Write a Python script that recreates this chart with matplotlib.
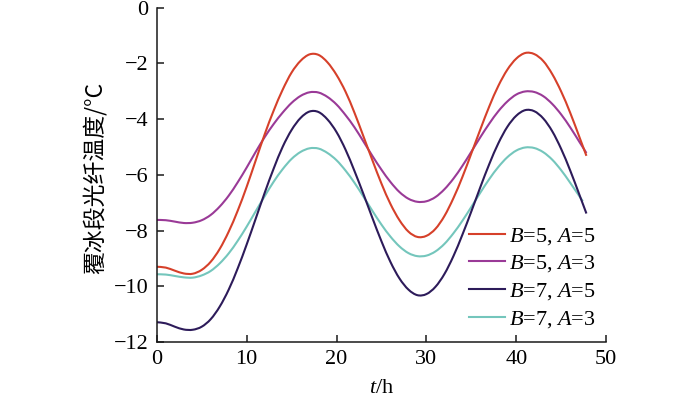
import matplotlib
matplotlib.use("Agg")
import matplotlib.pyplot as plt
from matplotlib.path import Path
from matplotlib.patches import PathPatch
from matplotlib.lines import Line2D

plt.rcParams['font.family'] = ['Liberation Serif', 'Noto Sans CJK SC', 'DejaVu Sans']
plt.rcParams['mathtext.fontset'] = 'custom'
plt.rcParams['mathtext.rm'] = 'Liberation Serif'
plt.rcParams['mathtext.it'] = 'Liberation Serif:italic'
plt.rcParams['axes.unicode_minus'] = True

# time (h)
t_main = list(range(0, 48)) + [47.8]
t_teal = list(range(0, 47)) + [47.4]

red = [-9.30, -9.33, -9.44, -9.54, -9.55, -9.41, -9.12, -8.66, -8.04, -7.29,
       -6.43, -5.49, -4.55, -3.70, -2.95, -2.33, -1.91, -1.68, -1.70, -1.97,
       -2.42, -3.02, -3.78, -4.63, -5.49, -6.32, -7.05, -7.63, -8.04, -8.23,
       -8.19, -7.94, -7.48, -6.84, -6.08, -5.23, -4.37, -3.54, -2.81, -2.23,
       -1.83, -1.63, -1.67, -1.92, -2.39, -3.02, -3.78, -4.63, -5.32]

purple = [-7.62, -7.63, -7.68, -7.73, -7.72, -7.63, -7.44, -7.14, -6.75, -6.27,
          -5.74, -5.18, -4.65, -4.18, -3.77, -3.42, -3.17, -3.04, -3.05, -3.21,
          -3.48, -3.86, -4.30, -4.81, -5.33, -5.82, -6.26, -6.62, -6.86, -6.97,
          -6.95, -6.80, -6.52, -6.14, -5.68, -5.17, -4.65, -4.16, -3.72, -3.37,
          -3.12, -3.01, -3.03, -3.18, -3.46, -3.84, -4.30, -4.81, -5.22]

navy = [-11.29, -11.33, -11.45, -11.55, -11.56, -11.45, -11.18, -10.73, -10.12, -9.36,
        -8.50, -7.58, -6.65, -5.78, -5.00, -4.39, -3.96, -3.73, -3.75, -4.02,
        -4.47, -5.10, -5.87, -6.70, -7.56, -8.39, -9.13, -9.72, -10.12, -10.32,
        -10.28, -10.02, -9.56, -8.92, -8.15, -7.31, -6.44, -5.61, -4.87, -4.28,
        -3.88, -3.68, -3.72, -3.98, -4.44, -5.08, -5.85, -6.70, -7.39]

teal = [-9.57, -9.58, -9.63, -9.68, -9.69, -9.61, -9.45, -9.18, -8.82, -8.37,
        -7.86, -7.31, -6.77, -6.25, -5.80, -5.43, -5.18, -5.05, -5.06, -5.22,
        -5.48, -5.85, -6.29, -6.79, -7.30, -7.79, -8.22, -8.57, -8.81, -8.92,
        -8.90, -8.75, -8.48, -8.10, -7.65, -7.15, -6.64, -6.15, -5.72, -5.37,
        -5.13, -5.02, -5.04, -5.19, -5.46, -5.84, -6.29, -6.95]

labels = [r'$B$=5, $A$=5', r'$B$=5, $A$=3', r'$B$=7, $A$=5', r'$B$=7, $A$=3']
colors = ['#D6402A', '#9A3A97', '#2D1B5A', '#74C6BC']

xticks = [0, 10, 20, 30, 40, 50]
yticks = [0, -2, -4, -6, -8, -10, -12]


def smooth_path(xs, ys):
    """Catmull-Rom spline through the data points, as cubic Bezier segments."""
    n = len(xs)
    verts = [(xs[0], ys[0])]
    codes = [Path.MOVETO]
    for i in range(n - 1):
        x0, y0 = (xs[i - 1], ys[i - 1]) if i > 0 else (xs[i], ys[i])
        x1, y1 = xs[i], ys[i]
        x2, y2 = xs[i + 1], ys[i + 1]
        x3, y3 = (xs[i + 2], ys[i + 2]) if i + 2 < n else (x2, y2)
        c1 = (x1 + (x2 - x0) / 6.0, y1 + (y2 - y0) / 6.0)
        c2 = (x2 - (x3 - x1) / 6.0, y2 - (y3 - y1) / 6.0)
        verts += [c1, c2, (x2, y2)]
        codes += [Path.CURVE4] * 3
    return Path(verts, codes)


fig = plt.figure(figsize=(7.0, 3.97), dpi=100)
ax = fig.add_axes([0.224, 0.1385, 0.642, 0.8425])

series = [(t_main, red), (t_main, purple), (t_main, navy), (t_teal, teal)]
for i in [3, 1, 0, 2]:
    tx, ty = series[i]
    patch = PathPatch(smooth_path(tx, ty), facecolor='none', edgecolor=colors[i],
                      lw=1.5, transform=ax.transData, capstyle='butt')
    ax.add_patch(patch)

ax.set_xlim(0, 50)
ax.set_ylim(-12, 0)
ax.set_xticks(xticks)
ax.set_yticks(yticks)
ax.set_xticklabels([str(v) for v in xticks])
ax.set_yticklabels([('\u2212' + str(-v)) if v < 0 else str(v) for v in yticks])

for s in ['top', 'right']:
    ax.spines[s].set_visible(False)
for s in ['left', 'bottom']:
    ax.spines[s].set_linewidth(1.1)
    ax.spines[s].set_color('#1a1a1a')

ax.tick_params(direction='in', length=5, width=1.1, labelsize=16, color='#1a1a1a')
ax.tick_params(axis='x', pad=6)
ax.tick_params(axis='y', pad=6)

ax.set_xlabel(r'$t$/h', fontsize=16)
ax.xaxis.set_label_coords(0.5, -0.11)
ax.set_ylabel('覆冰段光纤温度/°C', fontsize=16.5,
              family=['Noto Sans CJK SC', 'Liberation Serif'])
ax.yaxis.set_label_coords(-0.111, 0.49)

handles = [Line2D([], [], color=c, lw=1.5) for c in colors]
leg = ax.legend(handles, labels, loc='center left',
                bbox_to_anchor=(0.695, 0.192), frameon=False, fontsize=16,
                handlelength=1.6, handletextpad=0.2, labelspacing=0.3,
                borderpad=0, borderaxespad=0)

fig.savefig('out.png', dpi=100)
